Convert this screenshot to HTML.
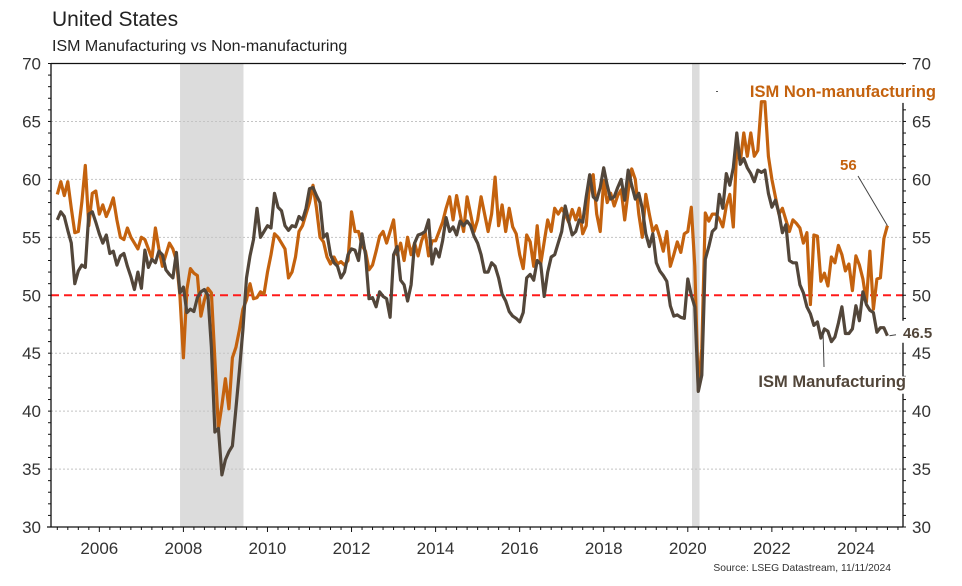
<!DOCTYPE html>
<html><head><meta charset="utf-8"><style>
html,body{margin:0;padding:0;background:#fff;}
svg{display:block;font-family:"Liberation Sans",Arial,sans-serif;}
</style></head><body>
<svg id="chart" width="962" height="586" viewBox="0 0 962 586" xmlns="http://www.w3.org/2000/svg">
<text x="52" y="26" font-size="21" fill="#222">United States</text>
<text x="52" y="51" font-size="16" fill="#222">ISM Manufacturing vs Non-manufacturing</text>
<g id="bg"></g><g id="grid"></g><g id="series"></g><g id="axes"></g><g id="labels"></g>
<text x="891" y="571" font-size="10.3" fill="#333" text-anchor="end">Source: LSEG Datastream, 11/11/2024</text>
</svg>
<script>
const yTicks=[30,35,40,45,50,55,60,65,70];
const xTickYears=[2006,2008,2010,2012,2014,2016,2018,2020,2022,2024];
const recessions=[[2007.92,2009.43],[2020.1,2020.28]];
const startYear=2005;
const manufacturing=[
56.5,57.2,56.8,55.6,54.5,51,52.1,52.6,52.4,57,57.2,56.3,
55.3,54.5,55.2,53.6,53.8,52.6,53.4,53.6,52.5,51.6,50.5,52,
50.6,53.9,52.4,53.1,52.8,53.8,53.5,52.2,51.8,51.5,53.7,50.2,
50.7,48.5,48.8,48.6,49.8,50.3,50.5,50,45.5,38.2,38.5,34.5,
35.8,36.5,37,40.2,43.5,47,51.5,53.4,54.8,57.5,55,55.5,
56,55.8,58.8,57.6,57.3,56,55.6,56,55.9,56.8,56.5,57.5,
59.2,59.3,58.6,58,55,55.3,53.5,52.8,52.5,51.5,52,53.5,
54,53.9,53,55.3,53.5,49.7,49.8,49,50.3,49.9,49.7,48.1,
53.5,54.2,51.3,50.9,49.5,50.9,54.5,55.2,55.3,55.5,56.5,52.7,
54,53.3,54.7,56.7,55.5,55.9,55.2,56.4,56,56.4,56,55.1,
54.5,53.5,52,52,52.8,52.5,51.5,50.1,49.5,48.6,48.2,48,
47.7,48.5,51.5,51.8,51.3,53,52.7,49.9,52,53.3,53.5,54.5,
55.5,57.7,56.4,55.2,55.5,56.5,56.3,58.5,60.4,58.5,58.2,59.3,
61,59.5,58.3,58.5,59.3,60,58.2,60.8,59.5,58.3,58.8,57.5,
55.3,54.2,55.3,52.8,52.1,51.7,51.2,49.1,48.2,48.3,48.1,48,
51.4,50,49,41.7,43.1,53.1,54.2,55.5,55.8,58.7,57.5,60.5,
59.5,61,64,61.3,61.8,61,60.5,59.8,60.8,60.6,60.8,58.8,
57.6,58.2,57.1,55.4,56.1,53,52.8,52.8,50.9,50.2,49,48.4,
47.4,47.7,46.3,47.1,46.9,46,46.4,47.6,49,46.7,46.7,47.1,
49.1,47.8,50.3,49.2,48.7,48.5,46.8,47.2,47.2,46.5];
const nonManufacturing=[
58.7,59.8,58.6,59.8,57.5,55.4,55.5,58,61.2,56,58.8,59,
57,57.8,56.8,57.5,58.4,56.5,55,54.8,55.8,55,54.5,54,
55,54.8,54,53.2,55.8,54,52.5,53.5,54.5,54,53,50,
44.6,50.5,52.3,51.9,51.7,48.2,49.6,50.6,50.2,44.4,38.5,40.5,
42.8,40.2,44.6,45.5,47,48.8,49.6,51,49.7,49.8,50.3,50.1,
52,53.5,55.3,55,54.5,54,51.5,52,53.3,55.5,56,57,
58,59.5,57.5,55,54.6,53.3,52.7,53.3,52.7,52.9,52.6,53,
57.2,55.5,55.5,54.3,53.8,52.2,52.6,53.8,55.1,55.5,54.5,55.5,
56.5,53.5,54.5,53,55,53.5,54.5,53.4,54.7,55.5,53.4,54.7,
54.7,55.5,56.3,57.5,58.5,56.5,58.6,57,55.5,58.5,57,55.5,
56.5,58.5,57,55.5,57,60.2,56,57.8,55.5,57.5,55.9,55.3,
53.5,52.3,55.2,54.6,52.5,56,52.7,54.6,56.5,55.5,57.5,57,
57.5,57,56.3,57.4,56.5,57.5,55.3,56,59.8,60.4,57,55.5,
59.9,58,58.8,57.7,58.6,59.1,56.5,59,60.9,60,57,55,
58.7,57,55.5,56,55,53.8,55.5,52.5,53.5,54.6,53.7,55.3,
55.5,57.6,52.5,41.8,45.4,57.1,56.4,57,57,56.6,55.9,57.7,
58.7,55.9,62.8,61.5,64,62,64,62,62.5,66.7,66.7,62,
60,58.5,57,57.5,56.5,55.5,56.5,56.2,55.8,54.5,55.4,49.2,
55.2,55.1,51.2,51.9,50.8,53.3,52.8,54.3,53.5,52.1,52.7,50.4,
53.4,52.6,51.4,49.4,53.8,48.8,51.4,51.5,54.9,56.0];

const NS="http://www.w3.org/2000/svg";
const L=51,R=903,T=63.5,B=527;
const x0=2004.85,x1=2025.12;
function xs(t){return L+(t-x0)/(x1-x0)*(R-L);}
function ys(v){return B-(v-30)/40*(B-T);}
function mk(tag,attrs,parent){const e=document.createElementNS(NS,tag);for(const k in attrs)e.setAttribute(k,attrs[k]);parent.appendChild(e);return e;}
const bg=document.getElementById('bg'),grid=document.getElementById('grid'),ser=document.getElementById('series'),ax=document.getElementById('axes'),lab=document.getElementById('labels');

recessions.forEach(r=>{
  const e=mk('rect',{x:xs(r[0]),y:T,width:xs(r[1])-xs(r[0]),height:B-T,fill:'#dcdcdc'},bg);
  
  
});
yTicks.forEach(v=>{
  if(v!==30&&v!==70&&v!==50){
    const g=mk('line',{x1:L,x2:R,y1:ys(v),y2:ys(v),stroke:'#c4c4c4','stroke-width':1,'stroke-dasharray':'2,2'},grid);
    
    
  }
});
const ref=mk('line',{x1:L,x2:R,y1:ys(50),y2:ys(50),stroke:'#ff1a1a','stroke-width':2,'stroke-dasharray':'8,5'},grid);



function path(arr){let d='';arr.forEach((v,i)=>{const t=startYear+i/12;d+=(i?'L':'M')+xs(t).toFixed(1)+','+ys(v).toFixed(1);});return d;}
const pn=mk('path',{d:path(nonManufacturing),fill:'none',stroke:'#c4620e','stroke-width':3.2,'stroke-linejoin':'round'},ser);


const pm=mk('path',{d:path(manufacturing),fill:'none',stroke:'#52463a','stroke-width':3.2,'stroke-linejoin':'round'},ser);



// axes
mk('line',{x1:L,x2:R,y1:T,y2:T,stroke:'#111','stroke-width':1.3},ax);
mk('line',{x1:L-4,x2:R,y1:B,y2:B,stroke:'#111','stroke-width':1.3},ax);
mk('line',{x1:L,x2:L,y1:T,y2:B,stroke:'#111','stroke-width':1.3},ax);
mk('line',{x1:R,x2:R,y1:T,y2:B,stroke:'#111','stroke-width':1.3},ax);
for(let v=30;v<=70;v++){
  mk('line',{x1:L-3,x2:L,y1:ys(v),y2:ys(v),stroke:'#111','stroke-width':1},ax);
  mk('line',{x1:R,x2:R+3,y1:ys(v),y2:ys(v),stroke:'#111','stroke-width':1},ax);
}
// gaps in right axis
mk('rect',{x:R-1,y:ys(47.8),width:6,height:ys(45.9)-ys(47.8),fill:'#fff'},ax);
mk('rect',{x:R-1,y:T+1,width:6,height:ys(66.6)-T-1,fill:'#fff'},ax);
mk('rect',{x:R-1,y:ys(43),width:6,height:ys(41.5)-ys(43),fill:'#fff'},ax);
for(let m=0;m<=241;m+=3){
  const t=2005+m/12; if(t>x1)break;
  const major=(m%24===12);
  mk('line',{x1:xs(t),x2:xs(t),y1:B,y2:B+(major?5:3),stroke:'#111','stroke-width':1},ax);
}
yTicks.forEach(v=>{
  const a=mk('text',{x:L-10,y:ys(v)+6,'font-size':17,'text-anchor':'end',fill:'#333'},lab);a.textContent=v;
  
  
  const b=mk('text',{x:R+9,y:ys(v)+6,'font-size':17,fill:'#333'},lab);b.textContent=v;
  
  
});
xTickYears.forEach(y=>{
  const t=mk('text',{x:xs(y),y:B+27,'font-size':17,'text-anchor':'middle',fill:'#333'},lab);t.textContent=y;
  
  
});
// annotations
const lastN=nonManufacturing[nonManufacturing.length-1],lastM=manufacturing[manufacturing.length-1];
const tEnd=startYear+(manufacturing.length-1)/12;
mk('line',{x1:858,y1:176,x2:xs(tEnd),y2:ys(lastN),stroke:'#444','stroke-width':1},lab);
const a1=mk('text',{x:840,y:170,'font-size':15,'font-weight':'bold',fill:'#c4620e'},lab);a1.textContent=lastN;


mk('line',{x1:xs(tEnd)+2,y1:ys(lastM),x2:896,y2:ys(lastM)-1,stroke:'#444','stroke-width':1},lab);
const a2=mk('text',{x:903,y:338,'font-size':15,'font-weight':'bold',fill:'#52463a'},lab);a2.textContent=lastM;


const l1=mk('text',{x:936,y:97,'font-size':16.5,'font-weight':'bold',fill:'#c4620e','text-anchor':'end'},lab);l1.textContent='ISM Non-manufacturing';


mk('rect',{x:716,y:91,width:2,height:1,fill:'#555'},lab);
mk('line',{x1:823,y1:330,x2:824,y2:367,stroke:'#444','stroke-width':1},lab);
const l2=mk('text',{x:906,y:387,'font-size':16.5,'font-weight':'bold',fill:'#52463a','text-anchor':'end'},lab);l2.textContent='ISM Manufacturing';


</script>
</body></html>
